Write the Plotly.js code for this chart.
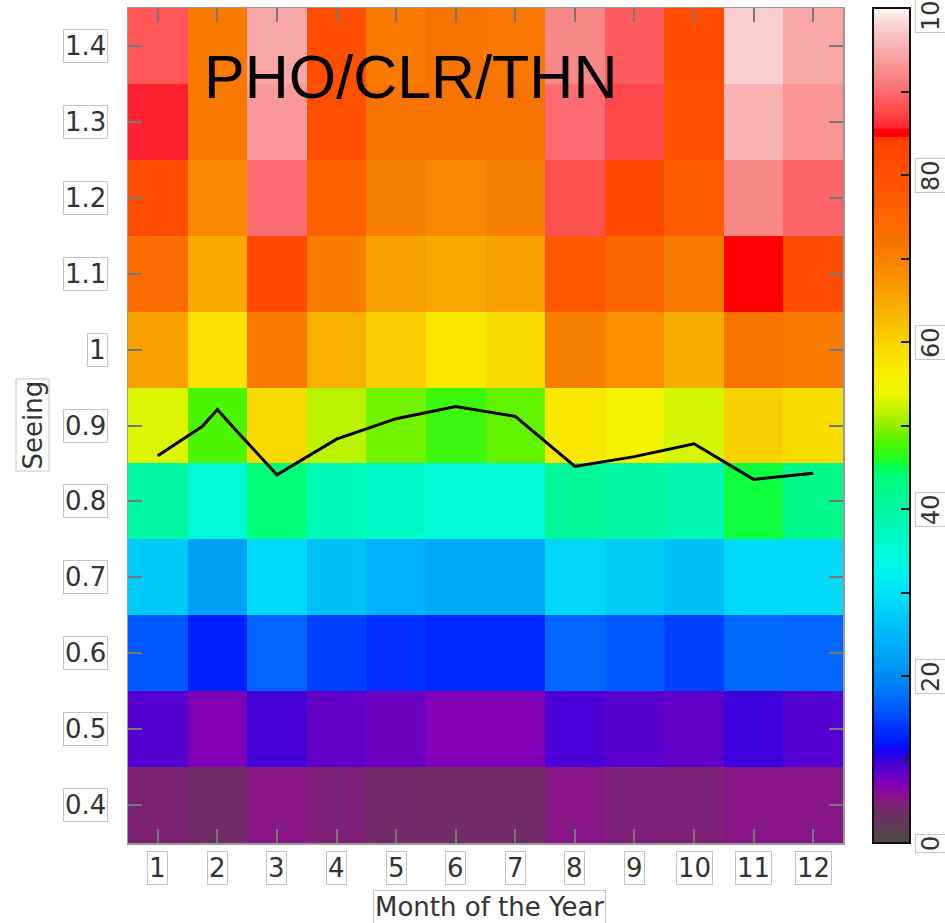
<!DOCTYPE html>
<html><head><meta charset="utf-8">
<script src="https://cdn.plot.ly/plotly-3.0.1.min.js"></script>
<style>html,body{margin:0;padding:0;background:#fff;}#chart{width:945px;height:923px;}</style>
</head><body><div id="chart"></div>
<script>
// ---- data ----
const months = [1,2,3,4,5,6,7,8,9,10,11,12];
const seeingBins = [0.4,0.5,0.6,0.7,0.8,0.9,1.0,1.1,1.2,1.3,1.4];
const pct04 = [4.5,3.6,5.2,4.7,3.9,3.7,3.7,5.3,4.7,4.6,5.3,5.3];
const pct05 = [9,7,9.5,8.3,7.8,7,7,9.3,8.8,8.3,9.8,9];
const pct06 = [16,12.5,17,14.5,13.5,13,13,17,16,14.5,17.2,17];
const pct07 = [27,22,29,26,24,23,23,28.5,27.5,26,29,29];
const pct08 = [40,35,44,38,36.5,35,35,41,40,38.5,45.4,42.5];
const pct09 = [53,47.8,59,51.5,49,47.2,48.5,57,55,52.5,60,58.5];
const pct10 = [66,58,71,64,60.5,57,58.5,70,68,64.5,72,71];
const pct11 = [73.5,65,82,70.5,66,65,66,78,75,71,85,81];
const pct12 = [81,69,90,76,70,69,70,88,82,77,92,89.5];
const pct13 = [85.7,71,93.5,80,72,72,72,90,87.5,80,95.5,93];
const pct14 = [88.5,71,94.5,80.5,71,72,71.5,92,89,81,97.5,94.5];
const medianX = [1,1.75,2,2.25,3,4,5,6,7,8,9,10,11,12];
const medianY = [0.860,0.899,0.921,0.899,0.835,0.882,0.909,0.925,0.912,0.846,0.859,0.876,0.829,0.837];
const yTicks = [0.4,0.5,0.6,0.7,0.8,0.9,1,1.1,1.2,1.3,1.4];
const yTickText = ['0.4','0.5','0.6','0.7','0.8','0.9','1','1.1','1.2','1.3','1.4'];
const cbTicks = [0,20,40,60,80,100];
const chartTitle = 'PHO/CLR/THN';
const xTitle = 'Month of the Year';
const yTitle = 'Seeing';

const zRows = [pct04,pct05,pct06,pct07,pct08,pct09,pct10,pct11,pct12,pct13,pct14];

const colorscale = [
 [0,'#4a4a40'],[0.02,'#5e3a58'],[0.04,'#722a6a'],[0.05,'#841a7e'],[0.06,'#8c0c98'],
 [0.07,'#8000b8'],[0.08,'#6a00c4'],[0.09,'#5400d0'],[0.10,'#3800e0'],[0.11,'#1800f0'],
 [0.12,'#0018ff'],[0.14,'#0038ff'],[0.16,'#0058ff'],[0.18,'#0074f8'],[0.20,'#008cf4'],
 [0.22,'#00a0f8'],[0.24,'#00b0f8'],[0.26,'#00c0f8'],[0.28,'#00d2f8'],[0.30,'#00e2f8'],
 [0.32,'#00f0f0'],[0.34,'#00f8e0'],[0.36,'#00f8cc'],[0.38,'#00f8b8'],[0.40,'#00f8a2'],
 [0.42,'#00f890'],[0.44,'#00ff78'],[0.45,'#00ff50'],[0.46,'#20ff20'],[0.48,'#50f400'],
 [0.50,'#90f000'],[0.52,'#c8f400'],[0.54,'#eef800'],[0.56,'#f8ee00'],[0.58,'#f8e200'],
 [0.60,'#f8d200'],[0.62,'#f8c200'],[0.64,'#f8b000'],[0.66,'#f8a000'],[0.68,'#f89000'],
 [0.70,'#f88000'],[0.72,'#f87400'],[0.74,'#fc6a00'],[0.76,'#ff6000'],[0.78,'#ff5800'],
 [0.80,'#ff5000'],[0.83,'#ff4600'],[0.845,'#ff3c00'],[0.846,'#ff0000'],[0.855,'#ff0000'],
 [0.856,'#ff2030'],[0.87,'#ff4048'],[0.88,'#ff5050'],[0.89,'#ff5c60'],[0.90,'#fc6c70'],
 [0.92,'#f88888'],[0.94,'#f8a0a0'],[0.96,'#f8b8b8'],[0.98,'#f8d4d4'],[1.0,'#fff6f6']
];

const heat = {
  type:'heatmap', x: months, y: seeingBins, z: zRows,
  zmin:0, zmax:100, colorscale: colorscale, hoverongaps:false,
  colorbar:{
    x:1.042, xanchor:'left', xpad:0, y:0.5, yanchor:'middle', ypad:0,
    len:1, lenmode:'fraction', thickness:37, thicknessmode:'pixels',
    outlinecolor:'#111', outlinewidth:2,
    tickmode:'array', tickvals:[10,20,30,40,50,60,70,80,90],
    ticks:'inside', ticklen:10, tickwidth:2, tickcolor:'#222',
    showticklabels:false
  }
};
const line = {
  type:'scatter', mode:'lines', x: medianX, y: medianY,
  line:{color:'#000', width:3}, hoverinfo:'skip', showlegend:false
};

const labFont = {family:'DejaVu Sans', size:26, color:'#333'};
const box = {bgcolor:'#fff', bordercolor:'#c4c4c4', borderwidth:1, borderpad:1};
const annotations = [];
yTicks.forEach((v,i)=>annotations.push(Object.assign({
  xref:'paper', yref:'y', x:0, y:v, xanchor:'right', yanchor:'middle', xshift:-20,
  text:yTickText[i], showarrow:false, font:labFont}, box)));
months.forEach(m=>annotations.push(Object.assign({
  xref:'x', yref:'paper', x:m, y:0, xanchor:'center', yanchor:'middle', yshift:-25,
  text:String(m), showarrow:false, font:labFont}, box)));
cbTicks.forEach(v=>annotations.push(Object.assign({
  xref:'paper', yref:'paper', x:1.123, y:v/100, xanchor:'center', yanchor:'middle',
  textangle:-90, text:String(v), showarrow:false,
  font:{family:'DejaVu Sans', size:24, color:'#333'}}, box)));
annotations.push(Object.assign({xref:'paper', yref:'paper', x:0.506, y:0, yshift:-64,
  xanchor:'center', yanchor:'middle', text:xTitle, showarrow:false, font:labFont}, box));
annotations.push(Object.assign({xref:'paper', yref:'paper', x:0, xshift:-96, y:0.5,
  xanchor:'center', yanchor:'middle', textangle:-90, text:yTitle, showarrow:false, font:labFont}, box));
annotations.push({xref:'paper', yref:'paper', x:0.104, y:0.917, xanchor:'left', yanchor:'middle',
  text:chartTitle, showarrow:false, font:{family:'Liberation Sans', size:61, color:'#000'}});

const axisCommon = {showgrid:false, zeroline:false, showline:true, linecolor:'#999', linewidth:1.5,
  mirror:'ticks', ticks:'inside', ticklen:14, tickwidth:2, tickcolor:'#777', showticklabels:false};
const layout = {
  width:945, height:923, margin:{l:128, r:102, t:8, b:80},
  paper_bgcolor:'#fff', plot_bgcolor:'#fff', showlegend:false,
  xaxis:Object.assign({range:[0.5,12.5], tickmode:'array', tickvals:months}, axisCommon),
  yaxis:Object.assign({range:[0.35,1.45], tickmode:'array', tickvals:yTicks}, axisCommon),
  annotations: annotations
};
Plotly.newPlot('chart',[heat,line],layout,{displayModeBar:false, staticPlot:true});
</script></body></html>
